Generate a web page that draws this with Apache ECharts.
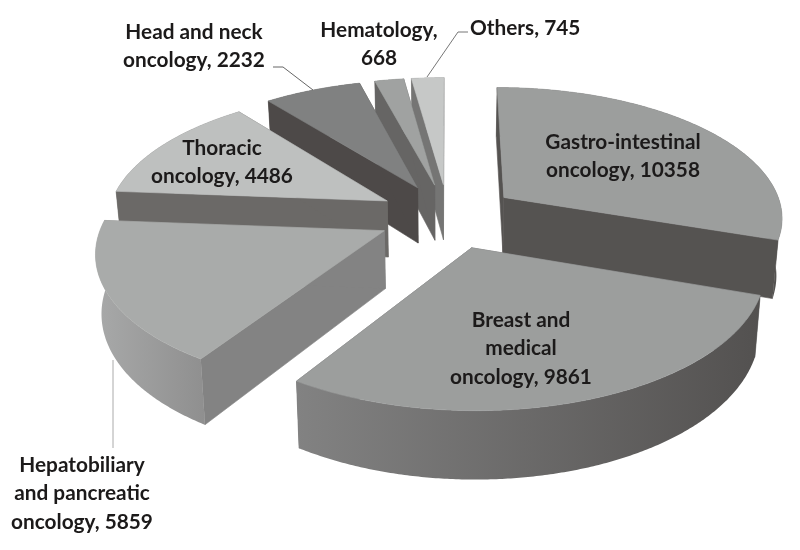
<!DOCTYPE html>
<html>
<head>
<meta charset="utf-8">
<style>html,body{margin:0;padding:0;background:#fff}#c{width:800px;height:550px;filter:blur(0.5px)}</style>
<script src="https://cdn.jsdelivr.net/npm/echarts@6/dist/echarts.min.js"></script>
</head>
<body>
<div id="c"></div>
<script>
const categories = ['Gastro-intestinal oncology','Breast and medical oncology','Hepatobiliary and pancreatic oncology','Thoracic oncology','Head and neck oncology','Hematology','Others'];
const values = [10358, 9861, 5859, 4486, 2232, 668, 745];
const labelTexts = ['Gastro-intestinal\noncology, 10358','Breast and\nmedical\noncology, 9861','Hepatobiliary\nand pancreatic\noncology, 5859','Thoracic\noncology, 4486','Head and neck\noncology, 2232','Hematology,\n668','Others, 745'];

// drawing style, separate from the data
const topColors = ['#9c9e9d','#9c9e9d','#a9abaa','#bec0bf','#808181','#a0a2a1','#c6c8c7'];
const radialColors = ['#555351','#666','#838383','#6b6967','#4d4948','#666564','#757574'];
const arcColors = [['#555351','#555351'],['#828282','#535150'],['#a8a9a9','#8f8f8f'],['#6b6967','#6b6967'],['#4d4948','#4d4948'],['#666564','#666564'],['#757574','#757574']];
const labelPos = [[623,128],[521,306],[82,451],[222,134],[194,18],[379,16],[470,14]];
const leaders = [
  {points:[[273,67],[283,67],[313,90]],stroke:'#666'},
  {points:[[468,32],[458,32],[427,77]],stroke:'#777'},
  {points:[[113,360],[113,448]],stroke:'#aaa'}
];

// projection of the pie's ground plane
const X0=448,Y0=216,R=280,EXPLODE=70,PERSP=0.0005,TILT=0.465,HEIGHT=57,TAPER=0.017;
const total=values.reduce((a,b)=>a+b,0);
const rad=d=>d*Math.PI/180;
function project(u,v,depth){const s=1/(1+PERSP*v);return [X0+u*s*(1-TAPER*depth),Y0-TILT*v*s+HEIGHT*s*depth];}
const slices=[];let acc=0;
values.forEach(val=>{const a0=acc/total*360;acc+=val;const a1=acc/total*360;const m=rad((a0+a1)/2);
  slices.push({a0,a1,ex:EXPLODE*Math.sin(m),ey:EXPLODE*Math.cos(m)});});
const order=slices.map((s,i)=>i).sort((a,b)=>slices[b].ey-slices[a].ey);

function rim(sl,depth){const pts=[];const n=Math.max(2,Math.ceil(sl.a1-sl.a0)*2);
  for(let i=0;i<=n;i++){const a=rad(sl.a0+(sl.a1-sl.a0)*i/n);pts.push(project(sl.ex+R*Math.sin(a),sl.ey+R*Math.cos(a),depth));}
  return pts;}
function poly(points,fill,z2){return {type:'polygon',z2,shape:{points},style:{fill,stroke:typeof fill==='string'?fill:null,lineWidth:typeof fill==='string'?0.6:0}};}

function renderItem(params,api){
  const i=params.dataIndex,sl=slices[i],rank=order.indexOf(i)*4;
  const apexT=project(sl.ex,sl.ey,0),apexB=project(sl.ex,sl.ey,1);
  const top=rim(sl,0),bot=rim(sl,1);
  const grad={type:'linear',x:0,y:0,x2:1,y2:0,colorStops:[{offset:0,color:arcColors[i][0]},{offset:1,color:arcColors[i][1]}]};
  return {type:'group',children:[
    poly([apexT,top[0],bot[0],apexB],radialColors[i],rank),
    poly([apexT,top[top.length-1],bot[bot.length-1],apexB],radialColors[i],rank),
    poly(top.concat(bot.slice().reverse()),grad,rank+1),
    poly([apexT].concat(top),topColors[i],rank+2)
  ]};
}

const chart=echarts.init(document.getElementById('c'),null,{renderer:'canvas'});
chart.setOption({
  animation:false,
  backgroundColor:'#fff',
  tooltip:{show:false},
  series:[{type:'custom',coordinateSystem:'none',renderItem,silent:true,
    data:values.map((v,i)=>({name:categories[i],value:[v]}))}],
  graphic:{elements:[
    ...leaders.map(l=>({type:'polyline',z:5,shape:{points:l.points},style:{stroke:l.stroke,fill:null,lineWidth:1}})),
    ...labelTexts.map((t,i)=>({type:'text',z:10,x:labelPos[i][0],y:labelPos[i][1],
      style:{text:t,align:i===6?'left':'center',verticalAlign:'top',fill:'#1c1a1a',fontFamily:'Lato',fontSize:20.8,fontWeight:'bold',lineHeight:28.5}}))
  ]}
});
</script>
</body>
</html>
